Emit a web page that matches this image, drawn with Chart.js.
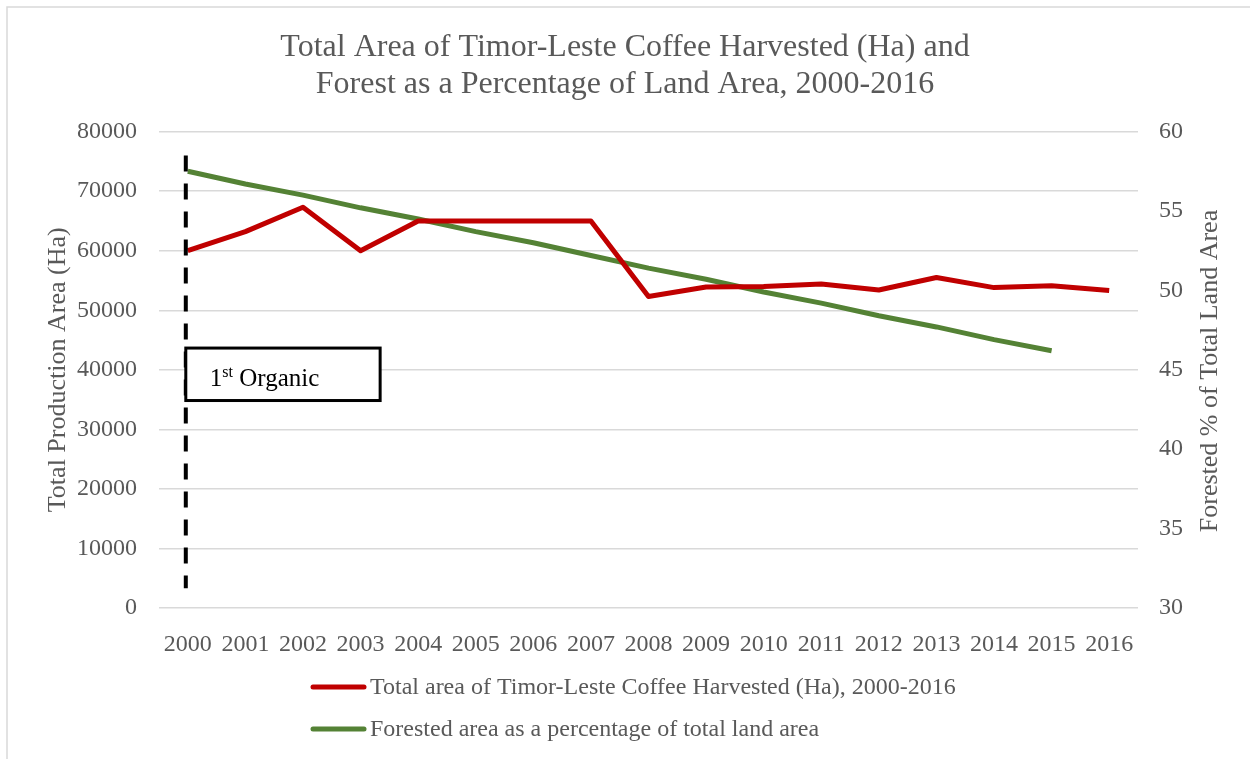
<!DOCTYPE html>
<html>
<head>
<meta charset="utf-8">
<script src="https://cdn.jsdelivr.net/npm/chart.js@4.4.1/dist/chart.umd.min.js"></script>
<style>
  html, body { margin: 0; padding: 0; background: #fff; }
  #chart { display: block; }
</style>
</head>
<body>
<canvas id="chart" width="1250" height="759"></canvas>
<script>
const years = ['2000', '2001', '2002', '2003', '2004', '2005', '2006', '2007', '2008',
  '2009', '2010', '2011', '2012', '2013', '2014', '2015', '2016'];
const coffeeArea = [60000, 63200, 67300, 60000, 65000, 65000, 65000, 65000, 52300,
  53900, 54000, 54400, 53400, 55500, 53800, 54100, 53300];
const forestPct = [57.5, 56.7, 56.0, 55.2, 54.5, 53.7, 53.0, 52.2, 51.4,
  50.7, 49.9, 49.2, 48.4, 47.7, 46.9, 46.2, null];
const leftTicks = [0, 10000, 20000, 30000, 40000, 50000, 60000, 70000, 80000];
const rightTicks = [30, 35, 40, 45, 50, 55, 60];

const SERIF = "'Liberation Serif', 'Times New Roman', serif";
const GREY = '#595959';

// organic certification marker, in data units
const marker = { yTop: 76000, yBottom: 3300, boxTop: 43650, boxBottom: 34840, boxRight: 3.34 };

const annotations = {
  id: 'annotations',
  beforeDraw: function (chart) {
    const ctx = chart.ctx;
    ctx.save();
    ctx.strokeStyle = '#d9d9d9';
    ctx.lineWidth = 1.5;
    ctx.strokeRect(7, 7, 1300, 800);
    ctx.restore();
  },
  afterDatasetsDraw: function (chart) {
    const ctx = chart.ctx, x = chart.scales.x, y = chart.scales.y;
    const x0 = x.getPixelForValue(0) - 2;

    ctx.save();
    ctx.strokeStyle = '#000';
    ctx.lineWidth = 4;
    ctx.setLineDash([16, 12]);
    ctx.beginPath();
    ctx.moveTo(x0, y.getPixelForValue(marker.yTop));
    ctx.lineTo(x0, y.getPixelForValue(marker.yBottom));
    ctx.stroke();

    const top = y.getPixelForValue(marker.boxTop);
    const bottom = y.getPixelForValue(marker.boxBottom);
    const right = x.getPixelForValue(marker.boxRight);
    ctx.setLineDash([]);
    ctx.lineWidth = 3;
    ctx.fillStyle = '#fff';
    ctx.fillRect(x0, top, right - x0, bottom - top);
    ctx.strokeRect(x0, top, right - x0, bottom - top);

    ctx.fillStyle = '#000';
    ctx.textBaseline = 'alphabetic';
    ctx.textAlign = 'left';
    let tx = x0 + 24, base = bottom - 15;
    ctx.font = '25px ' + SERIF;
    ctx.fillText('1', tx, base);
    tx += ctx.measureText('1').width;
    ctx.font = '16px ' + SERIF;
    ctx.fillText('st', tx, base - 9);
    tx += ctx.measureText('st').width;
    ctx.font = '25px ' + SERIF;
    ctx.fillText(' Organic', tx, base);
    ctx.restore();
  },
  afterDraw: function (chart) {
    const ctx = chart.ctx;
    ctx.save();
    // right axis title reads bottom to top
    ctx.translate(1210, 371);
    ctx.rotate(-Math.PI / 2);
    ctx.fillStyle = GREY;
    ctx.font = '26px ' + SERIF;
    ctx.textAlign = 'center';
    ctx.textBaseline = 'middle';
    ctx.fillText('Forested % of Total Land Area', 0, 0);
    ctx.restore();

    // legend, one series per row
    ctx.save();
    ctx.font = '24px ' + SERIF;
    ctx.textBaseline = 'middle';
    ctx.textAlign = 'left';
    chart.data.datasets.forEach(function (ds, i) {
      const ly = 687 + i * 42;
      ctx.strokeStyle = ds.borderColor;
      ctx.lineWidth = 5;
      ctx.lineCap = 'round';
      ctx.beginPath();
      ctx.moveTo(313, ly);
      ctx.lineTo(364, ly);
      ctx.stroke();
      ctx.fillStyle = GREY;
      ctx.fillText(ds.label, 370, ly + 1);
    });
    ctx.restore();
  }
};

new Chart(document.getElementById('chart'), {
  type: 'line',
  data: {
    labels: years,
    datasets: [
      {
        label: 'Total area of Timor-Leste Coffee Harvested (Ha), 2000-2016',
        data: coffeeArea,
        borderColor: '#c00000',
        borderWidth: 5,
        borderJoinStyle: 'round',
        pointRadius: 0,
        tension: 0,
        yAxisID: 'y'
      },
      {
        label: 'Forested area as a percentage of total land area',
        data: forestPct,
        borderColor: '#548235',
        borderWidth: 5,
        borderJoinStyle: 'round',
        pointRadius: 0,
        tension: 0,
        yAxisID: 'y1'
      }
    ]
  },
  options: {
    responsive: false,
    animation: false,
    devicePixelRatio: 1,
    layout: { padding: 0 },
    plugins: {
      legend: { display: false },
      tooltip: { enabled: false },
      title: {
        display: true,
        text: ['Total Area of Timor-Leste Coffee Harvested (Ha) and',
          'Forest as a Percentage of Land Area, 2000-2016'],
        color: GREY,
        font: { family: SERIF, size: 32, weight: 'normal', lineHeight: 1.15 },
        padding: { top: 29, bottom: 29 }
      }
    },
    scales: {
      x: {
        offset: true,
        grid: { display: false },
        border: { display: false },
        ticks: { color: GREY, font: { family: SERIF, size: 24 }, padding: 14, maxRotation: 0 },
        afterFit: function (s) { s.height = 151; }
      },
      y: {
        position: 'left',
        min: 0,
        max: 80000,
        afterBuildTicks: function (s) { s.ticks = leftTicks.map(v => ({ value: v })); },
        grid: { color: '#d9d9d9', lineWidth: 1.5, drawTicks: false },
        border: { display: false },
        ticks: {
          color: GREY,
          font: { family: SERIF, size: 24 },
          padding: 22,
          callback: function (v) { return String(v); }
        },
        title: {
          display: true,
          text: 'Total Production Area (Ha)',
          color: GREY,
          font: { family: SERIF, size: 26 },
          padding: { top: 43, bottom: 0 }
        },
        afterFit: function (s) { s.width = 159; }
      },
      y1: {
        position: 'right',
        min: 30,
        max: 60,
        afterBuildTicks: function (s) { s.ticks = rightTicks.map(v => ({ value: v })); },
        grid: { display: false, drawTicks: false },
        border: { display: false },
        ticks: { color: GREY, font: { family: SERIF, size: 24 }, padding: 21 },
        afterFit: function (s) { s.width = 112; }
      }
    }
  },
  plugins: [annotations]
});
</script>
</body>
</html>
